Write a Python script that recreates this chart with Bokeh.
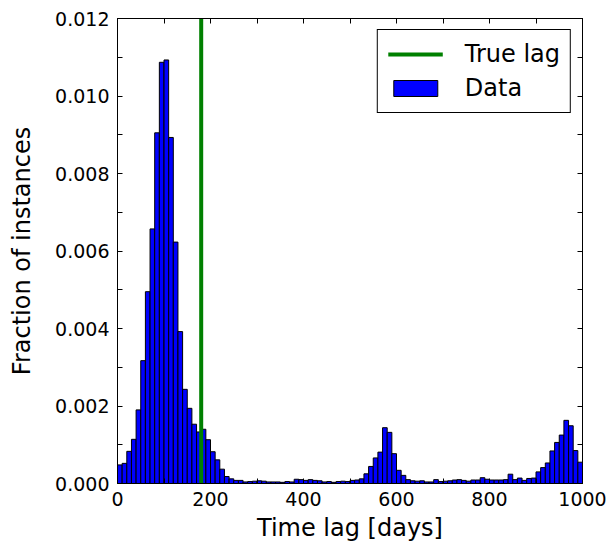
import numpy as np
from bokeh.plotting import figure
from bokeh.models import (FixedTicker, PrintfTickFormatter, LinearAxis, Legend, LegendItem,
                          Range1d, ColumnDataSource)
from bokeh.embed import file_html
from bokeh.resources import INLINE

# ---- data ----
bin_width = 10
bin_edges = np.arange(0, 1001, bin_width)
fraction = [
    0.00048, 0.00052, 0.00083, 0.00114, 0.00190, 0.00317, 0.00495, 0.00657, 0.00905, 0.01087,
    0.01093, 0.00893, 0.00623, 0.00392, 0.00243, 0.00194, 0.00153, 0.00133, 0.00140, 0.00113,
    0.00082, 0.00061, 0.00037, 0.00018, 0.00012, 0.00008, 0.00008, 0.00004, 0.00005, 0.00006,
    0.00007, 0.00006, 0.00004, 0.00004, 0.00004, 0.00003, 0.00005, 0.00004, 0.00011, 0.00010,
    0.00008, 0.00010, 0.00008, 0.00007, 0.00004, 0.00005, 0.00003, 0.00005, 0.00006, 0.00005,
    0.00008, 0.00009, 0.00012, 0.00025, 0.00044, 0.00066, 0.00081, 0.00144, 0.00132, 0.00077,
    0.00034, 0.00021, 0.00010, 0.00007, 0.00006, 0.00007, 0.00004, 0.00004, 0.00010, 0.00005,
    0.00006, 0.00007, 0.00009, 0.00010, 0.00008, 0.00006, 0.00009, 0.00009, 0.00015, 0.00011,
    0.00009, 0.00009, 0.00009, 0.00010, 0.00024, 0.00010, 0.00014, 0.00008, 0.00013, 0.00014,
    0.00030, 0.00041, 0.00053, 0.00084, 0.00106, 0.00125, 0.00163, 0.00149, 0.00085, 0.00055,
]
true_lag = 180

x_ticks = [0, 200, 400, 600, 800, 1000]
x_minor = [100, 300, 500, 700, 900]
y_ticks = [0.000, 0.002, 0.004, 0.006, 0.008, 0.010, 0.012]
y_minor = [0.001, 0.003, 0.005, 0.007, 0.009, 0.011]
x_lim = (0, 1000)
y_lim = (0, 0.012)

FONT = "DejaVu Sans"

p = figure(width=608, height=545, output_backend="svg", toolbar_location=None,
           x_range=Range1d(*x_lim), y_range=Range1d(*y_lim),
           min_border_left=117, min_border_right=26, min_border_top=18, min_border_bottom=62)
p.background_fill_color = "white"
p.border_fill_color = "white"
p.grid.visible = False
p.outline_line_color = "black"
p.outline_line_width = 1

src = ColumnDataSource(dict(left=bin_edges[:-1], right=bin_edges[1:], top=fraction))
bars = p.quad(left="left", right="right", bottom=0, top="top", source=src,
              fill_color="#0000ff", line_color="black", line_width=1)
lag = p.segment(x0=[true_lag], y0=[y_lim[0]], x1=[true_lag], y1=[y_lim[1]],
                line_color="#008000", line_width=4)

def style_axis(ax, labels=True):
    ax.axis_line_color = "black"
    ax.major_tick_in = 5
    ax.major_tick_out = 0
    ax.minor_tick_in = 5
    ax.minor_tick_out = 0
    ax.major_tick_line_color = "black"
    ax.minor_tick_line_color = "black"
    ax.major_label_text_font = FONT
    ax.major_label_text_color = "black"
    ax.major_label_text_font_size = "19px" if labels else "0px"
    ax.major_label_standoff = 8
    ax.axis_label_text_font = FONT
    ax.axis_label_text_font_size = "24px"
    ax.axis_label_text_font_style = "normal"
    ax.axis_label_text_color = "black"

p.xaxis.ticker = FixedTicker(ticks=x_ticks, minor_ticks=x_minor)
p.yaxis.ticker = FixedTicker(ticks=y_ticks, minor_ticks=y_minor)
p.yaxis.formatter = PrintfTickFormatter(format="%.3f")
p.xaxis.axis_label = "Time lag [days]"
p.yaxis.axis_label = "Fraction of instances"
style_axis(p.xaxis[0])
style_axis(p.yaxis[0])
p.xaxis.axis_label_standoff = 5
p.yaxis.axis_label_standoff = 16

top_ax = LinearAxis(ticker=FixedTicker(ticks=x_ticks, minor_ticks=x_minor))
right_ax = LinearAxis(ticker=FixedTicker(ticks=y_ticks, minor_ticks=y_minor))
for ax in (top_ax, right_ax):
    style_axis(ax, labels=False)
    ax.major_label_standoff = 0
p.add_layout(top_ax, "above")
p.add_layout(right_ax, "right")

legend = Legend(items=[LegendItem(label="True lag", renderers=[lag]),
                       LegendItem(label="Data", renderers=[bars])],
                location="top_right", margin=11, padding=10, spacing=6,
                glyph_width=55, glyph_height=20, label_standoff=22,
                label_text_font=FONT, label_text_font_size="24px", label_text_color="black",
                border_line_color="black", border_line_width=1, border_line_alpha=1,
                background_fill_color="white", background_fill_alpha=1)
p.add_layout(legend, "center")

open("out.html", "w").write(file_html(p, INLINE))
